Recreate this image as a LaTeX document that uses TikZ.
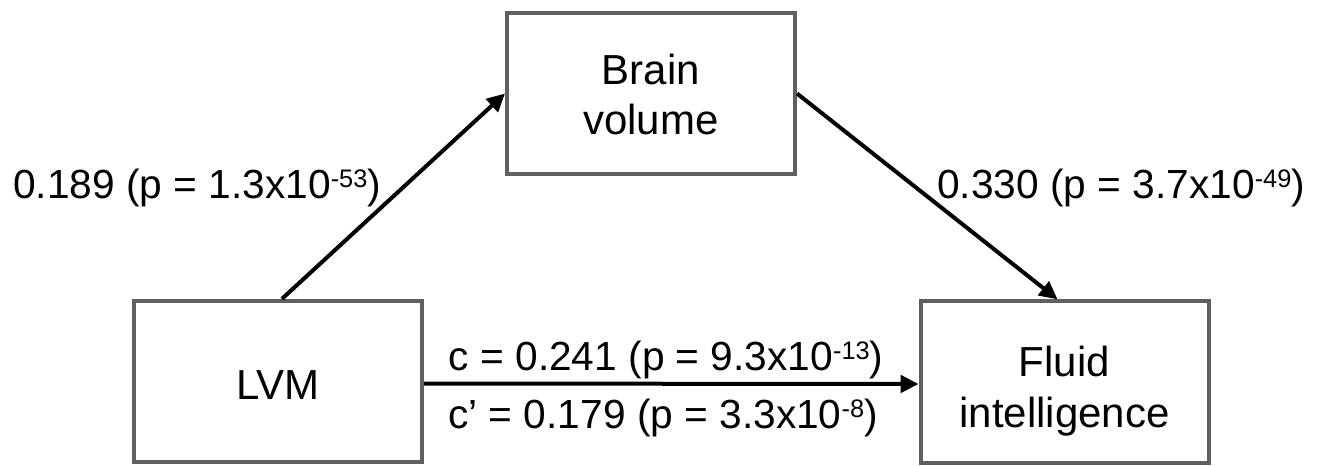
\documentclass[tikz,border=0pt]{standalone}
\usepackage{fontspec}
\setmainfont{Liberation Sans}
\usetikzlibrary{arrows.meta,calc}

\definecolor{boxgray}{RGB}{96,96,96}
% small raised exponent, top aligned with the digits
\newcommand\expo[1]{\raisebox{8pt}{\fontsize{19}{19}\selectfont #1}}

\tikzset{
  varbox/.style={draw=boxgray, line width=3pt, minimum width=216pt, minimum height=121pt,
    inner sep=0pt},
  boxtext/.style={inner sep=0pt, align=center, font=\fontsize{31.5}{38}\selectfont},
  path/.style={line width=3pt, -{Triangle[length=13.5pt,width=13pt]}},
  coef/.style={anchor=base, inner sep=0pt, font=\fontsize{30.5}{36}\selectfont}
}

\begin{document}
\begin{tikzpicture}[x=0.75pt,y=-0.75pt]
  \useasboundingbox (0,0) rectangle (1324,465);

  % variables of the mediation model
  \node[varbox] (brain) at (651,93.5) {};
  \node[varbox] (lvm)   at (278,381.5) {};
  \node[varbox] (fluid) at (1064.5,382) {};
  \node[boxtext] (braintxt) at ($(brain.center)+(0,1)$) {Brain\\volume};
  \node[boxtext] (lvmtxt)   at ($(lvm.center)+(0,4)$) {LVM};
  \node[boxtext] (fluidtxt) at ($(fluid.center)+(0,9)$) {Fluid\\intelligence};

  % paths a, b and c / c'
  \draw[path] ($(lvm.north)+(4,0)$) -- (brain.west);
  \draw[path] (brain.east) -- ($(fluid.north)+(-7,0)$);
  \draw[path] ($(lvm.east)+(0,2)$) -- ($(fluid.west)+(0,2)$);

  % path coefficients
  \node[coef] (a) at (197,198) {0.189 (p = 1.3x10\expo{-53})};
  \node[coef] (b) at (1121,198) {0.330 (p = 3.7x10\expo{-49})};
  \node[coef] (c) at (666,370) {c = 0.241 (p = 9.3x10\expo{-13})};
  \node[coef] (cp) at (663,428) {c’ = 0.179 (p = 3.3x10\expo{-8})};
\end{tikzpicture}
\end{document}
